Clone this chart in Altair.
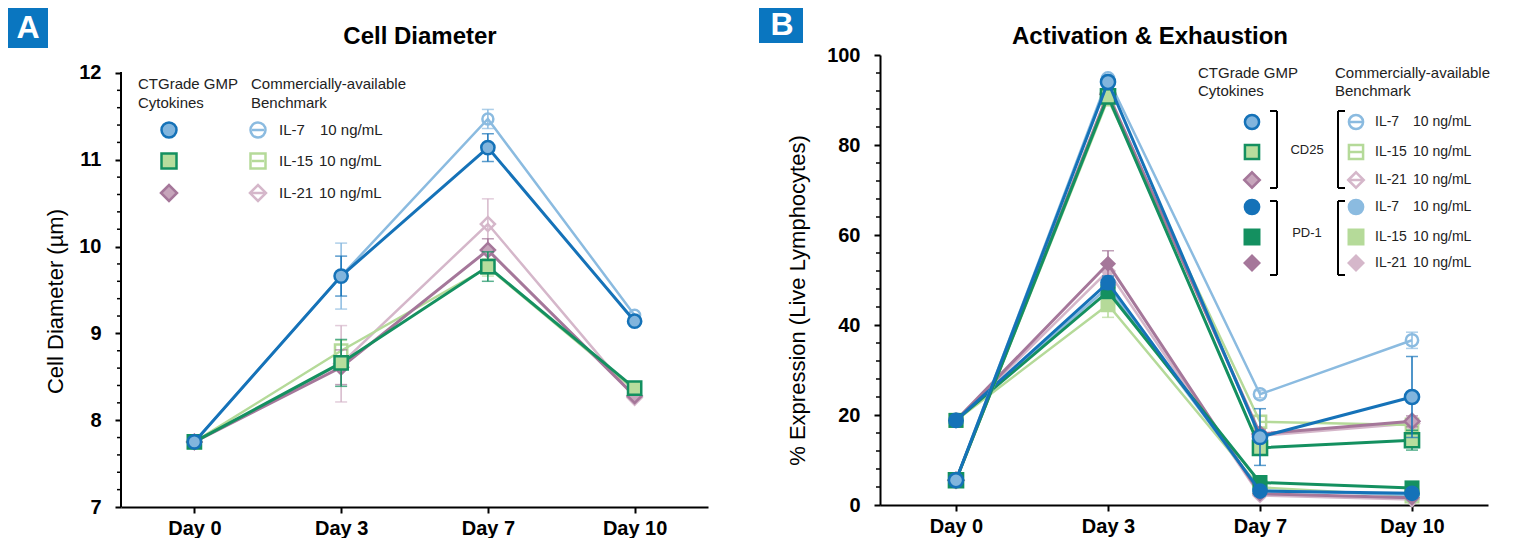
import altair as alt
import pandas as pd

FONT = "Liberation Sans"
days = ["Day 0", "Day 3", "Day 7", "Day 10"]

# ---------------- Panel A : Cell Diameter (µm) ----------------
a_ticks = [7, 8, 9, 10, 11, 12]
a_minor = [7.2, 7.4, 7.6, 7.8, 8.2, 8.4, 8.6, 8.8, 9.2, 9.4, 9.6, 9.8,
           10.2, 10.4, 10.6, 10.8, 11.2, 11.4, 11.6, 11.8]
a_ctg_il7 = [7.75, 9.66, 11.14, 9.14]
a_ctg_il7_err = [0, 0.23, 0.16, 0]
a_bm_il7 = [7.75, 9.66, 11.47, 9.21]
a_bm_il7_err = [0, 0.38, 0.11, 0]
a_ctg_il15 = [7.75, 8.66, 9.77, 8.37]
a_ctg_il15_err = [0, 0.27, 0.17, 0]
a_bm_il15 = [7.75, 8.80, 9.76, 8.35]
a_bm_il15_err = [0, 0.12, 0.10, 0]
a_ctg_il21 = [7.75, 8.61, 9.96, 8.28]
a_ctg_il21_err = [0, 0.20, 0.13, 0]
a_bm_il21 = [7.75, 8.65, 10.26, 8.26]
a_bm_il21_err = [0, 0.44, 0.29, 0]

# ---------------- Panel B : % Expression ----------------
b_ticks = [0, 20, 40, 60, 80, 100]
b_minor = [4, 8, 12, 16, 24, 28, 32, 36, 44, 48, 52, 56, 64, 68, 72, 76,
           84, 88, 92, 96]
b_ctg_il7_cd25 = [5.5, 94.0, 15.1, 24.0]
b_ctg_il7_cd25_err = [0, 1.0, 6.3, 9.0]
b_bm_il7_cd25 = [5.5, 94.8, 24.6, 36.6]
b_bm_il7_cd25_err = [0, 0.8, 0.8, 1.8]
b_ctg_il15_cd25 = [5.5, 90.8, 12.7, 14.4]
b_ctg_il15_cd25_err = [0, 1.0, 1.5, 2.2]
b_bm_il15_cd25 = [5.5, 90.2, 18.5, 17.8]
b_bm_il15_cd25_err = [0, 1.0, 1.2, 1.0]
b_ctg_il21_cd25 = [5.5, 91.3, 15.8, 18.6]
b_ctg_il21_cd25_err = [0, 1.0, 1.0, 1.2]
b_bm_il21_cd25 = [5.5, 91.6, 15.4, 18.1]
b_bm_il21_cd25_err = [0, 1.0, 1.0, 1.0]
b_ctg_il7_pd1 = [18.8, 49.4, 3.1, 2.6]
b_ctg_il7_pd1_err = [0, 1.5, 0, 0]
b_bm_il7_pd1 = [18.8, 48.4, 3.3, 2.2]
b_bm_il7_pd1_err = [0, 1.2, 0, 0]
b_ctg_il15_pd1 = [18.8, 47.4, 5.0, 3.8]
b_ctg_il15_pd1_err = [0, 1.2, 0, 0]
b_bm_il15_pd1 = [18.8, 44.5, 3.9, 2.0]
b_bm_il15_pd1_err = [0, 2.8, 0, 0]
b_ctg_il21_pd1 = [18.8, 53.6, 2.5, 1.6]
b_ctg_il21_pd1_err = [0, 2.9, 0, 0]
b_bm_il21_pd1 = [18.8, 52.0, 2.1, 1.2]
b_bm_il21_pd1_err = [0, 1.5, 0, 0]

# colours
DB, LBF, LB = "#1572B8", "#82B5DD", "#8BBBE0"
DG, LGF, LG = "#149060", "#B7DD9D", "#B5DA99"
MV, MVF, PK = "#A5779A", "#C6A5BB", "#D5B7CA"
BOX = "#0A76C0"

dummy = pd.DataFrame({"k": [0]})


def point_kw(kind, shape, size, stroke, fill=None):
    kw = dict(shape=shape, size=size, opacity=1)
    if kind == "ctg":
        kw.update(filled=True, fill=fill, stroke=stroke, strokeWidth=2.5)
    elif kind == "open":
        kw.update(filled=False, stroke=stroke, strokeWidth=2.5)
    else:
        kw.update(filled=True, color=stroke, strokeWidth=0)
    return kw


def txt(s, x, y, size=15, weight="normal", align="left", color="#222222"):
    return alt.Chart(dummy).mark_text(
        text=s, align=align, baseline="middle", font=FONT, fontSize=size,
        fontWeight=weight, color=color).encode(x=alt.value(x), y=alt.value(y))


def sym(x, y, kw):
    return alt.Chart(dummy).mark_point(**kw).encode(x=alt.value(x), y=alt.value(y))


def hrule(x1, x2, y, color="black", w=2):
    return alt.Chart(dummy).mark_rule(color=color, strokeWidth=w).encode(
        x=alt.value(x1), x2=alt.value(x2), y=alt.value(y))


def vrule(x, y1, y2, color="black", w=2):
    return alt.Chart(dummy).mark_rule(color=color, strokeWidth=w).encode(
        x=alt.value(x), y=alt.value(y1), y2=alt.value(y2))


def box(x1, x2, y1, y2):
    return alt.Chart(dummy).mark_rect(color=BOX).encode(
        x=alt.value(x1), x2=alt.value(x2), y=alt.value(y1), y2=alt.value(y2))


def make_panel(series, ticks, minor, domain, width, height, ytitle, tx, ty, cap, ydomain_line=True):
    xs = alt.Scale(type="point", padding=0.5)
    xaxis = alt.Axis(title=None, labelAngle=0, labelFont=FONT, labelFontSize=20,
                     labelFontWeight="bold", labelColor="black", labelPadding=5,
                     tickSize=6, tickWidth=2, tickColor="black",
                     domainColor="black", domainWidth=2, grid=False)
    ys = alt.Scale(domain=domain, nice=False, zero=False)
    yaxis = alt.Axis(title=ytitle, values=ticks, format="d", labelFont=FONT,
                     labelFontSize=20, labelFontWeight="bold", labelColor="black",
                     labelPadding=14, tickSize=6, tickWidth=2, tickColor="black",
                     domain=ydomain_line, domainColor="black", domainWidth=2, grid=False,
                     titleFont=FONT, titleFontSize=22, titleFontWeight="normal",
                     titleColor="black", titleX=tx, titleY=ty, titleAngle=270,
                     titleAlign="center", titleBaseline="middle")

    def X():
        return alt.X("day:N", sort=days, scale=xs, axis=xaxis)

    def Y(f):
        return alt.Y(f, scale=ys, axis=yaxis)

    layers = [alt.Chart(pd.DataFrame({"m": minor})).mark_rule(
        color="black", strokeWidth=1.5).encode(x=alt.value(-4), x2=alt.value(0), y=Y("m:Q"))]
    for s in series:
        df = pd.DataFrame({"day": days, "v": s["v"], "e": s["e"]})
        df["lo"] = df["v"] - df["e"]
        df["hi"] = df["v"] + df["e"]
        dfe = df[df["e"] > 0]
        base = alt.Chart(df)
        layers.append(base.mark_line(color=s["line"], strokeWidth=s["lw"]).encode(x=X(), y=Y("v:Q")))
        if len(dfe):
            eb = alt.Chart(dfe)
            layers.append(eb.mark_rule(color=s["line"], strokeWidth=1.5).encode(
                x=X(), y=Y("lo:Q"), y2="hi:Q"))
            for f in ("lo", "hi"):
                layers.append(eb.mark_tick(color=s["line"], thickness=1.5, size=cap).encode(
                    x=X(), y=Y(f + ":Q")))
        layers.append(base.mark_point(**s["pt"]).encode(x=X(), y=Y("v:Q")))
    return layers


# ---------- Panel A ----------
# plot area 587 x 452; values 7..12 occupy the lower 434 px (axis top at 12)
a_series = [
    dict(v=a_bm_il21, e=a_bm_il21_err, line=PK, lw=2.5, pt=point_kw("open", "diamond", 200, PK)),
    dict(v=a_bm_il15, e=a_bm_il15_err, line=LG, lw=2.5, pt=point_kw("open", "square", 150, LG)),
    dict(v=a_bm_il7, e=a_bm_il7_err, line=LB, lw=2.5, pt=point_kw("open", "circle", 120, LB)),
    dict(v=a_ctg_il21, e=a_ctg_il21_err, line=MV, lw=3, pt=point_kw("ctg", "diamond", 200, MV, MVF)),
    dict(v=a_ctg_il15, e=a_ctg_il15_err, line=DG, lw=3, pt=point_kw("ctg", "square", 175, DG, LGF)),
    dict(v=a_ctg_il7, e=a_ctg_il7_err, line=DB, lw=3, pt=point_kw("ctg", "circle", 175, DB, LBF)),
]
a_layers = make_panel(a_series, a_ticks, a_minor, [7, 12.207], 587, 452,
                      "Cell Diameter (µm)", -66, 246, 12, ydomain_line=False)
a_layers += [
    vrule(0, 17, 452, "black", 2),
    box(-113, -73, -47, -7),
    txt("A", -93, -27, size=32, weight="bold", align="center", color="white"),
    txt("Cell Diameter", 299, -18, size=24, weight="bold", align="center", color="black"),
    txt("CTGrade GMP", 17, 29), txt("Cytokines", 17, 48),
    txt("Commercially-available", 130, 29), txt("Benchmark", 130, 48),
    sym(48, 75, point_kw("ctg", "circle", 225, DB, LBF)),
    sym(48, 106, point_kw("ctg", "square", 225, DG, LGF)),
    sym(48, 138, point_kw("ctg", "diamond", 256, MV, MVF)),
    sym(137, 75, point_kw("open", "circle", 225, LB)), hrule(131, 143, 75, LB, 2.5),
    sym(137, 106, point_kw("open", "square", 225, LG)), hrule(131, 143, 106, LG, 2.5),
    sym(137, 138, point_kw("open", "diamond", 256, PK)), hrule(131, 143, 138, PK, 2.5),
    txt("IL-7", 158, 75), txt("10 ng/mL", 199, 75),
    txt("IL-15", 158, 106), txt("10 ng/mL", 198, 106),
    txt("IL-21", 158, 138), txt("10 ng/mL", 198, 138),
]
panel_a = alt.layer(*a_layers).properties(width=587, height=452)

# ---------- Panel B ----------
b_series = [
    dict(v=b_bm_il21_pd1, e=b_bm_il21_pd1_err, line=PK, lw=2.5, pt=point_kw("solid", "diamond", 260, PK)),
    dict(v=b_bm_il15_pd1, e=b_bm_il15_pd1_err, line=LG, lw=2.5, pt=point_kw("solid", "square", 225, LG)),
    dict(v=b_bm_il7_pd1, e=b_bm_il7_pd1_err, line=LB, lw=2.5, pt=point_kw("solid", "circle", 245, LB)),
    dict(v=b_ctg_il21_pd1, e=b_ctg_il21_pd1_err, line=MV, lw=3, pt=point_kw("solid", "diamond", 260, MV)),
    dict(v=b_ctg_il15_pd1, e=b_ctg_il15_pd1_err, line=DG, lw=3, pt=point_kw("solid", "square", 225, DG)),
    dict(v=b_ctg_il7_pd1, e=b_ctg_il7_pd1_err, line=DB, lw=3, pt=point_kw("solid", "circle", 245, DB)),
    dict(v=b_bm_il21_cd25, e=b_bm_il21_cd25_err, line=PK, lw=2.5, pt=point_kw("open", "diamond", 200, PK)),
    dict(v=b_bm_il15_cd25, e=b_bm_il15_cd25_err, line=LG, lw=2.5, pt=point_kw("open", "square", 150, LG)),
    dict(v=b_bm_il7_cd25, e=b_bm_il7_cd25_err, line=LB, lw=2.5, pt=point_kw("open", "circle", 150, LB)),
    dict(v=b_ctg_il21_cd25, e=b_ctg_il21_cd25_err, line=MV, lw=3, pt=point_kw("ctg", "diamond", 220, MV, MVF)),
    dict(v=b_ctg_il15_cd25, e=b_ctg_il15_cd25_err, line=DG, lw=3, pt=point_kw("ctg", "square", 200, DG, LGF)),
    dict(v=b_ctg_il7_cd25, e=b_ctg_il7_cd25_err, line=DB, lw=3, pt=point_kw("ctg", "circle", 200, DB, LBF)),
]
b_layers = make_panel(b_series, b_ticks, b_minor, [0, 100], 608, 450,
                      "% Expression (Live Lymphocytes)", -83, 245, 12)
rows = [67, 97, 125, 152, 182, 208]
LF = 14
b_layers += [
    box(-121, -77, -47, -12),
    txt("B", -98, -30, size=32, weight="bold", align="center", color="white"),
    txt("Activation & Exhaustion", 270, -18, size=24, weight="bold", align="center", color="black"),
    txt("CTGrade GMP", 318, 18, size=LF + 1), txt("Cytokines", 318, 36, size=LF + 1),
    txt("Commercially-available", 455, 18, size=LF + 1), txt("Benchmark", 455, 36, size=LF + 1),
    sym(372, rows[0], point_kw("ctg", "circle", 200, DB, LBF)),
    sym(372, rows[1], point_kw("ctg", "square", 200, DG, LGF)),
    sym(372, rows[2], point_kw("ctg", "diamond", 240, MV, MVF)),
    sym(372, rows[3], point_kw("solid", "circle", 280, DB)),
    sym(372, rows[4], point_kw("solid", "square", 289, DG)),
    sym(372, rows[5], point_kw("solid", "diamond", 324, MV)),
    sym(476, rows[0], point_kw("open", "circle", 200, LB)), hrule(470, 482, rows[0], LB, 2.5),
    sym(476, rows[1], point_kw("open", "square", 200, LG)), hrule(470, 482, rows[1], LG, 2.5),
    sym(476, rows[2], point_kw("open", "diamond", 240, PK)), hrule(470, 482, rows[2], PK, 2.5),
    sym(476, rows[3], point_kw("solid", "circle", 280, LB)),
    sym(476, rows[4], point_kw("solid", "square", 289, LG)),
    sym(476, rows[5], point_kw("solid", "diamond", 324, PK)),
    txt("IL-7", 495, rows[0], size=LF), txt("10 ng/mL", 533, rows[0], size=LF),
    txt("IL-15", 495, rows[1], size=LF), txt("10 ng/mL", 533, rows[1], size=LF),
    txt("IL-21", 495, rows[2], size=LF), txt("10 ng/mL", 533, rows[2], size=LF),
    txt("IL-7", 495, rows[3], size=LF), txt("10 ng/mL", 533, rows[3], size=LF),
    txt("IL-15", 495, rows[4], size=LF), txt("10 ng/mL", 533, rows[4], size=LF),
    txt("IL-21", 495, rows[5], size=LF), txt("10 ng/mL", 533, rows[5], size=LF),
    # brackets
    vrule(397, 56, 133), hrule(390, 397, 56), hrule(390, 397, 133),
    vrule(397, 146, 220), hrule(390, 397, 146), hrule(390, 397, 220),
    vrule(458, 56, 133), hrule(458, 465, 56), hrule(458, 465, 133),
    vrule(458, 146, 220), hrule(458, 465, 146), hrule(458, 465, 220),
    txt("CD25", 427, 95, size=13, align="center"),
    txt("PD-1", 427, 178, size=13, align="center"),
]
panel_b = alt.layer(*b_layers).properties(width=608, height=450)

chart = alt.hconcat(panel_a, panel_b, spacing=51).properties(
    padding={"left": 0, "top": 0, "right": 0, "bottom": 0}
).configure(font=FONT).configure_view(stroke=None)

chart.save("out.html", embed_options={"renderer": "svg", "actions": False})
